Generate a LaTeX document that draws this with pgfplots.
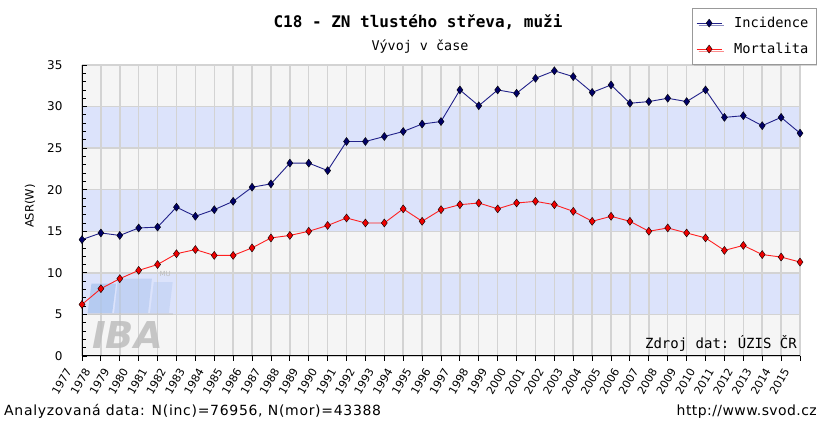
\documentclass[border=0pt]{standalone}
\usepackage{fontspec}
\setmainfont{DejaVu Sans}
\setmonofont{DejaVu Sans Mono}
\usepackage{pgfplots}
\pgfplotsset{compat=1.18}
\usetikzlibrary{shadows}
\definecolor{bandblue}{HTML}{DCE3FB}
\definecolor{bandgray}{HTML}{F5F5F5}
\definecolor{gridc}{HTML}{D3D3D3}
\definecolor{incline}{HTML}{22228A}
\definecolor{incmark}{HTML}{000066}
\definecolor{morline}{HTML}{FF2020}
\definecolor{mormark}{HTML}{EE0000}
\definecolor{wmblue}{HTML}{A9C3EE}
\definecolor{wmgray}{HTML}{BDBDBD}
\begin{document}
\begin{tikzpicture}
\begin{axis}[
  at={(82pt,67pt)}, anchor=south west, scale only axis,
  width=718pt, height=291pt,
  xmin=1977, xmax=2015, ymin=0, ymax=35,
  set layers,
  axis background/.style={fill=bandgray},
  axis x line*=bottom, axis y line*=left,
  axis line style={black, line width=1pt, -},
  xtick={1977,...,2015}, ytick={0,5,...,35},
  minor y tick num=4,
  grid=major, major grid style={gridc, line width=1.5pt},
  tick align=inside, major tick length=5pt, minor tick length=4pt,
  tick style={black, line width=0.8pt},
  x tick style={yshift=-5pt},
  /pgf/number format/assume math mode=true,
  xticklabel style={rotate=60, anchor=east, xshift=-17pt, yshift=5pt, font=\fontsize{11}{11}\selectfont, /pgf/number format/1000 sep={}, inner sep=1pt},
  yticklabel style={font=\fontsize{12}{12}\selectfont, xshift=-16pt},
  ylabel={ASR(W)},
  ylabel style={at={(axis description cs:-0.0724,0.515)}, anchor=center, font=\fontsize{11.5}{11.5}\selectfont},
  legend style={at={(0.8496,1.196)}, anchor=north west, draw=gray!80, fill=white,
    font=\ttfamily\fontsize{13.7}{13.7}\selectfont,
    drop shadow={shadow xshift=2pt, shadow yshift=-2pt, fill=gray!60},
    inner xsep=4pt, inner ysep=7pt, row sep=10pt,
    nodes={inner xsep=4pt}},
  legend cell align=left,
  legend image code/.code={\draw[#1, mark=none] (0pt,0pt) -- (25pt,0pt); \draw[#1] plot coordinates {(12.5pt,0pt)}; \path (33pt,0pt);},
]
\addplot[draw=none, fill=bandblue, forget plot, on layer=axis background] coordinates {(1977,5) (2015,5) (2015,10) (1977,10)} -- cycle;
\addplot[draw=none, fill=bandblue, forget plot, on layer=axis background] coordinates {(1977,15) (2015,15) (2015,20) (1977,20)} -- cycle;
\addplot[draw=none, fill=bandblue, forget plot, on layer=axis background] coordinates {(1977,25) (2015,25) (2015,30) (1977,30)} -- cycle;
% watermark
\fill[wmblue, opacity=0.75] (axis cs:1977.3,5.2) -- (axis cs:1978.6,5.2) -- (axis cs:1978.8,8.7) -- (axis cs:1977.5,8.7) -- cycle;
\fill[wmblue, opacity=0.5] (axis cs:1978.7,5.2) -- (axis cs:1980.5,5.2) -- (axis cs:1980.7,9.3) -- (axis cs:1978.9,9.3) -- cycle;
\fill[wmblue, opacity=0.35] (axis cs:1980.6,5.2) -- (axis cs:1981.6,5.2) -- (axis cs:1981.8,8.9) -- (axis cs:1980.8,8.9) -- cycle;
\fill[wmgray, opacity=0.4] (axis cs:1977.3,4.9) rectangle (axis cs:1981.8,5.2);
\node[text=wmgray, font=\bfseries\itshape\fontsize{37}{37}\selectfont, opacity=0.85] at (axis cs:1979.4,2.5) {IBA};
\node[text=wmgray, font=\fontsize{7}{7}\selectfont] at (axis cs:1981.4,9.9) {MU};
\addplot[incline, line width=0.9pt, mark=diamond*, mark size=4pt, mark options={fill=incmark, draw=black, line width=0.4pt}] coordinates {
(1977,14.0) (1978,14.8) (1979,14.5) (1980,15.4) (1981,15.5) (1982,17.9) (1983,16.8) (1984,17.6) (1985,18.6) (1986,20.3)
(1987,20.7) (1988,23.2) (1989,23.2) (1990,22.3) (1991,25.8) (1992,25.8) (1993,26.4) (1994,27.0) (1995,27.9) (1996,28.2)
(1997,32.0) (1998,30.1) (1999,32.0) (2000,31.6) (2001,33.4) (2002,34.3) (2003,33.6) (2004,31.7) (2005,32.6) (2006,30.4)
(2007,30.6) (2008,31.0) (2009,30.6) (2010,32.0) (2011,28.7) (2012,28.9) (2013,27.7) (2014,28.7) (2015,26.8)};
\addlegendentry{Incidence}
\addplot[morline, line width=0.9pt, mark=diamond*, mark size=4pt, mark options={fill=mormark, draw=black, line width=0.4pt}] coordinates {
(1977,6.2) (1978,8.1) (1979,9.3) (1980,10.3) (1981,11.0) (1982,12.3) (1983,12.8) (1984,12.1) (1985,12.1) (1986,13.0)
(1987,14.2) (1988,14.5) (1989,15.0) (1990,15.7) (1991,16.6) (1992,16.0) (1993,16.0) (1994,17.7) (1995,16.2) (1996,17.6)
(1997,18.2) (1998,18.4) (1999,17.7) (2000,18.4) (2001,18.6) (2002,18.2) (2003,17.4) (2004,16.2) (2005,16.8) (2006,16.2)
(2007,15.0) (2008,15.4) (2009,14.8) (2010,14.2) (2011,12.7) (2012,13.3) (2013,12.2) (2014,11.9) (2015,11.3)};
\addlegendentry{Mortalita}
\node[anchor=south east, font=\ttfamily\fontsize{14}{14}\selectfont, inner sep=2pt, xshift=-1pt, yshift=2pt] at (rel axis cs:1,0) {Zdroj dat: ÚZIS ČR};
\end{axis}
\node[font=\ttfamily\bfseries\fontsize{16}{16}\selectfont] at (418pt,401pt) {C18 - ZN tlustého střeva, muži};
\node[font=\ttfamily\fontsize{13.4}{13.4}\selectfont] at (420pt,376pt) {Vývoj v čase};
\node[anchor=base west, font=\addfontfeatures{LetterSpace=5}\fontsize{14}{14}\selectfont, inner sep=0pt] at (4pt,7pt) {Analyzovaná data: N(inc)=76956, N(mor)=43388};
\node[anchor=base east, font=\addfontfeatures{LetterSpace=3}\fontsize{14}{14}\selectfont, inner sep=0pt] at (817pt,7pt) {http://www.svod.cz};
\pgfresetboundingbox
\useasboundingbox (0pt,0pt) rectangle (817pt,423pt);
\end{tikzpicture}
\end{document}
